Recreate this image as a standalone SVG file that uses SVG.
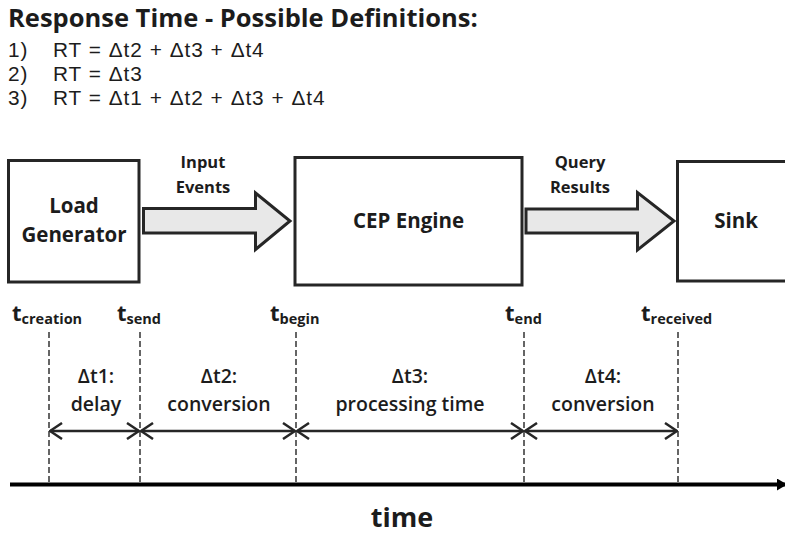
<svg xmlns="http://www.w3.org/2000/svg" width="785" height="535" viewBox="0 0 785 535">
<style>
text{font-family:"Open Sans","Noto Sans","Liberation Sans",sans-serif;fill:#1c1c1c}
.title{font-size:25.5px;font-weight:700}
.def{font-family:"Liberation Sans",Arial,sans-serif;font-size:20.8px;letter-spacing:0.9px;word-spacing:0.3px}
.node{fill:#fff;stroke:#262626;stroke-width:3}
.big{fill:#e8e8e8;stroke:#262626;stroke-width:3;stroke-linejoin:miter}
.lbl{font-size:16.5px;font-weight:700;text-anchor:middle}
.nl{font-size:20.5px;font-weight:700;text-anchor:middle}
.tl{font-size:22px;font-weight:700}
.sub{font-size:14.5px;font-weight:700}
.dl{font-size:19.5px;font-weight:600;text-anchor:middle}
.dash{stroke:#333;stroke-width:1.5;stroke-dasharray:6,3;fill:none}
.span{stroke:#262626;stroke-width:2.5;fill:none;marker-start:url(#chev);marker-end:url(#chev)}
</style>
<defs>
<marker id="chev" viewBox="0 0 14 18" refX="13" refY="9" markerWidth="14" markerHeight="18" markerUnits="userSpaceOnUse" orient="auto-start-reverse">
<path d="M1,1 L13,9 L1,17" fill="none" stroke="#262626" stroke-width="2.5"/>
</marker>
<marker id="tarr" viewBox="0 0 10 12" refX="9" refY="6" markerWidth="10" markerHeight="12" markerUnits="userSpaceOnUse" orient="auto">
<path d="M0,0 L10,6 L0,12 Z" fill="#000"/>
</marker>
</defs>

<g id="definitions">
<text class="title" x="8" y="27">Response Time - Possible Definitions:</text>
<text class="def"><tspan x="8" y="57">1)</tspan><tspan x="53" y="57">RT = Δt2 + Δt3 + Δt4</tspan><tspan x="8" y="81">2)</tspan><tspan x="53" y="81">RT = Δt3</tspan><tspan x="8" y="105">3)</tspan><tspan x="53" y="105">RT = Δt1 + Δt2 + Δt3 + Δt4</tspan></text>
</g>

<g id="load-generator">
<rect class="node" x="8.5" y="160.5" width="130.5" height="121.5"/>
<text class="nl" x="74" y="213">Load</text>
<text class="nl" x="74" y="242">Generator</text>
</g>
<g id="cep-engine">
<rect class="node" x="295" y="157.5" width="227" height="127.5"/>
<text class="nl" x="408.5" y="228">CEP Engine</text>
</g>
<g id="sink">
<rect class="node" x="677.5" y="161.5" width="130" height="119.5"/>
<text class="nl" x="736" y="228">Sink</text>
</g>

<g id="connectors">
<path class="big" d="M143.5,208.5 H255.5 V193 L290,221 L255.5,249.5 V233 H143.5 Z"/>
<text class="lbl" x="203" y="168">Input</text>
<text class="lbl" x="203" y="193">Events</text>
<path class="big" d="M526,209 H637.5 V192.5 L674,221 L637.5,250 V233 H526 Z"/>
<text class="lbl" x="580" y="168">Query</text>
<text class="lbl" x="580" y="193">Results</text>
</g>

<g id="timeline">
<line class="dash" x1="49" y1="332" x2="49" y2="484"/>
<line class="dash" x1="140" y1="332" x2="140" y2="484"/>
<line class="dash" x1="296" y1="332" x2="296" y2="484"/>
<line class="dash" x1="524" y1="332" x2="524" y2="484"/>
<line class="dash" x1="678" y1="332" x2="678" y2="484"/>

<line class="span" x1="50" y1="431" x2="139" y2="431"/>
<line class="span" x1="141" y1="431" x2="295" y2="431"/>
<line class="span" x1="297" y1="431" x2="523" y2="431"/>
<line class="span" x1="525" y1="431" x2="677" y2="431"/>

<line x1="10" y1="484.5" x2="786" y2="484.5" stroke="#000" stroke-width="4" marker-end="url(#tarr)"/>

<text class="tl" x="12" y="321">t<tspan class="sub" dy="3">creation</tspan></text>
<text class="tl" x="117" y="321">t<tspan class="sub" dy="3">send</tspan></text>
<text class="tl" x="270" y="321">t<tspan class="sub" dy="3">begin</tspan></text>
<text class="tl" x="505" y="321">t<tspan class="sub" dy="3">end</tspan></text>
<text class="tl" x="641" y="321">t<tspan class="sub" dy="3">received</tspan></text>

<text class="dl" x="96" y="383">Δt1:</text>
<text class="dl" x="96" y="411">delay</text>
<text class="dl" x="219" y="383">Δt2:</text>
<text class="dl" x="219" y="411">conversion</text>
<text class="dl" x="410" y="383">Δt3:</text>
<text class="dl" x="410" y="411">processing time</text>
<text class="dl" x="603" y="383">Δt4:</text>
<text class="dl" x="603" y="411">conversion</text>

<text x="402" y="527" style="font-size:27px;font-weight:700;text-anchor:middle">time</text>
</g>
</svg>
